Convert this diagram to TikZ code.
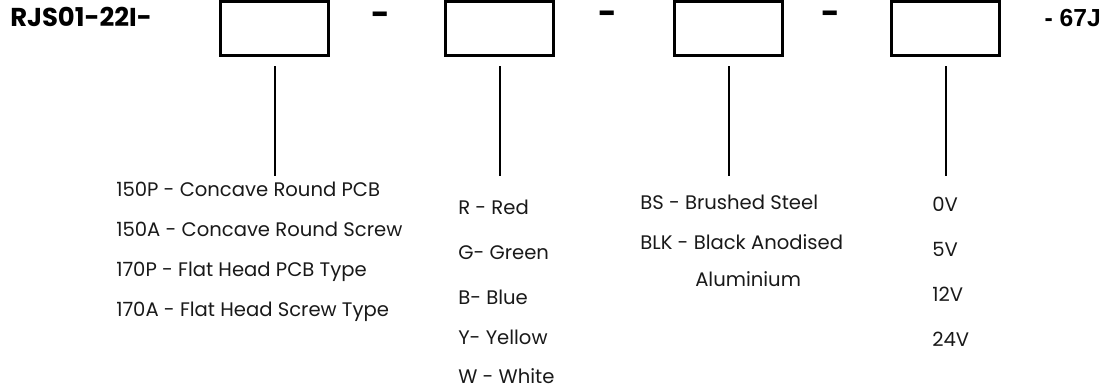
\documentclass[tikz,border=0pt]{standalone}
\usepackage{fontspec}
\setmainfont{Poppins}
\newfontfamily\codefont{Liberation Sans}

\tikzset{
  slot/.style={draw, line width=2.4pt, minimum width=81pt, minimum height=40.5pt, inner sep=0pt},
  stem/.style={line width=1.5pt, shorten <=6.75pt},
  item/.style={anchor=base west, inner sep=0pt, text=black!90, font=\fontsize{14.7}{17}\selectfont},
  sep/.style={inner sep=0pt, font=\fontsize{24}{26}\selectfont\bfseries}
}

\begin{document}
\begin{tikzpicture}[x=0.75pt,y=-0.75pt]
  \useasboundingbox (0,0) rectangle (1105,390);

  % code line
  \node[anchor=base west, inner sep=0pt, font=\fontsize{19.4}{22}\selectfont\bfseries] (pre) at (10,26.7) {RJS01-22I-};
  \node[anchor=base east, inner sep=0pt, font=\codefont\fontsize{18.5}{21}\selectfont\bfseries] (suf) at (1101,26) {- 67J};

  \node[slot] (b1) at (274.5,28.5) {};
  \node[slot] (b2) at (499.5,28.5) {};
  \node[slot] (b3) at (728.5,28.5) {};
  \node[slot] (b4) at (945.5,28.5) {};

  \node[sep] (d1) at (381,19) {-};
  \node[sep] (d2) at (608,18) {-};
  \node[sep] (d3) at (831,18) {-};

  % stems
  \foreach \b in {1,...,4}{
    \coordinate (e\b) at (b\b |- 0,176);
    \draw[stem] (b\b.south) -- (e\b);
  }

  % options
  \foreach \t [count=\i] in {150P - Concave Round PCB,150A - Concave Round Screw,
  170P - Flat Head PCB Type,170A - Flat Head Screw Type}
    \node[item] (p\i) at (116,{156.7+40*\i}) {\t};

  \foreach \t/\y [count=\i] in {R - Red/214,G- Green/259,B- Blue/304,Y- Yellow/344,W - White/383}
    \node[item] (c\i) at (458,\y) {\t};

  \node[item] (f1) at (640,209) {BS - Brushed Steel};
  \node[item] (f2) at (640,249) {BLK - Black Anodised};
  \node[item] (f3) at (695,286) {Aluminium};

  \foreach \t [count=\i] in {0V,5V,12V,24V}
    \node[item] (v\i) at (932,{166+45*\i}) {\t};

\end{tikzpicture}
\end{document}
